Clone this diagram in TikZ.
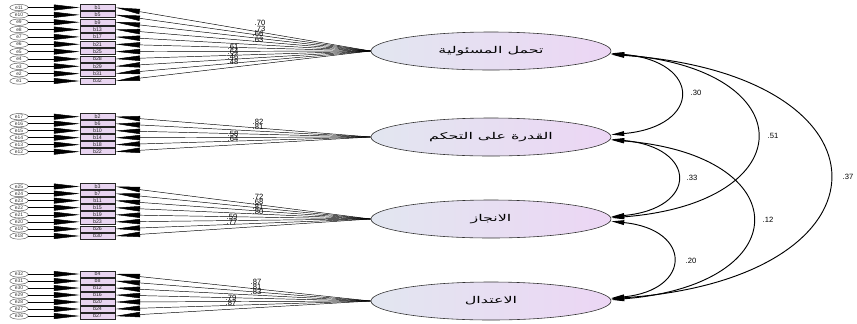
\documentclass[tikz,border=0pt]{standalone}
\usepackage{fontspec}
\setmainfont{Liberation Sans}
\newfontfamily\arabicfont[Script=Arabic,FakeStretch=1.7]{DejaVu Sans}
\TeXXeTstate=1
\usetikzlibrary{shapes.geometric,arrows.meta}
\definecolor{latleft}{RGB}{226,230,240}
\definecolor{latright}{RGB}{236,214,244}
\definecolor{indfill}{RGB}{232,212,240}
\begin{document}
\begin{tikzpicture}[x=0.03cm,y=-0.03cm,
  lat/.style={ellipse, draw=black!80, line width=0.5pt, minimum width=7.2cm, minimum height=1.14cm, inner sep=0pt, left color=latleft, right color=latright, font=\arabicfont\fontsize{8}{8}\selectfont},
  errnode/.style={ellipse, draw=black!65, fill=white, minimum width=0.55cm, minimum height=0.19cm, inner sep=0pt, text=black!80, font=\fontsize{4.2}{4.2}\selectfont},
  indnode/.style={rectangle, draw=black!85, line width=0.7pt, fill=indfill, minimum width=1.05cm, minimum height=0.18cm, inner sep=0pt, text=black!85, font=\fontsize{4.5}{4.5}\selectfont},
  earrow/.style={line width=0.4pt, -{Triangle[length=22pt,width=5pt]}},
  larrow/.style={line width=0.4pt, -{Triangle[length=21pt,width=4.5pt]}},
  cov/.style={line width=0.8pt, {Triangle[length=11pt,width=4pt]}-{Triangle[length=11pt,width=4pt]}},
  lbl/.style={font=\fontsize{6.5}{6.5}\selectfont, inner sep=0pt}
]
\useasboundingbox (0,0) rectangle (857,323);

\node[lat] (F1) at (491,51) {\beginR تحمل المسئولية\endR};
\node[lat] (F2) at (491,137) {\beginR القدرة على التحكم\endR};
\node[lat] (F3) at (491,219) {\beginR الانجاز\endR};
\node[lat] (F4) at (491,301) {\beginR الاعتدال\endR};

\foreach \e/\b [count=\i from 0] in {11/1,10/5,9/9,8/13,7/17,6/21,5/25,4/28,3/29,2/31,1/32} {
  \node[indnode] (b\b) at (97.5,7.5+7.35*\i) {b\b};
  \node[errnode] (e\e) at (19,7.5+7.35*\i) {e\e};
  \draw[earrow] (e\e) -- (b\b);
  \draw[larrow] (F1.west) -- (b\b.east);
}
\foreach \e/\b [count=\i from 0] in {17/2,16/6,15/10,14/14,13/18,12/22} {
  \node[indnode] (b\b) at (97.5,116.7+7*\i) {b\b};
  \node[errnode] (e\e) at (19,116.7+7*\i) {e\e};
  \draw[earrow] (e\e) -- (b\b);
  \draw[larrow] (F2.west) -- (b\b.east);
}
\foreach \e/\b [count=\i from 0] in {25/3,24/7,23/11,22/15,21/19,20/23,19/26,18/30} {
  \node[indnode] (b\b) at (97.5,186.5+7.07*\i) {b\b};
  \node[errnode] (e\e) at (19,186.5+7.07*\i) {e\e};
  \draw[earrow] (e\e) -- (b\b);
  \draw[larrow] (F3.west) -- (b\b.east);
}
\foreach \e/\b [count=\i from 0] in {32/4,31/8,30/12,29/16,28/20,27/24,26/27} {
  \node[indnode] (b\b) at (97.5,274+7*\i) {b\b};
  \node[errnode] (e\e) at (19,274+7*\i) {e\e};
  \draw[earrow] (e\e) -- (b\b);
  \draw[larrow] (F4.west) -- (b\b.east);
}

% loadings
\node[lbl] (g1a) at (260,23) {.70};
\node[lbl] (g1b) at (260,28.5) {.73};
\node[lbl] (g1c) at (258,34) {.66};
\node[lbl] (g1d) at (258,39.5) {.63};
\node[lbl] (g1e) at (233,47) {.61};
\node[lbl] (g1f) at (233,52) {.64};
\node[lbl] (g1g) at (233,57) {.46};
\node[lbl] (g1h) at (233,62) {.48};

\node[lbl] (g2a) at (258,122) {.82};
\node[lbl] (g2b) at (258,127) {.81};
\node[lbl] (g2c) at (233,133.5) {.58};
\node[lbl] (g2d) at (233,138.5) {.64};

\node[lbl] (g3a) at (258,197) {.72};
\node[lbl] (g3b) at (258,202) {.68};
\node[lbl] (g3c) at (258,207) {.81};
\node[lbl] (g3d) at (258,211.5) {.80};
\node[lbl] (g3e) at (232,217) {.59};
\node[lbl] (g3f) at (232,222) {.77};

\node[lbl] (g4a) at (256,282) {.87};
\node[lbl] (g4b) at (256,287) {.81};
\node[lbl] (g4c) at (256,292) {.83};
\node[lbl] (g4d) at (231,298) {.79};
\node[lbl] (g4e) at (231,303) {.87};

% covariances
\draw[cov] ([yshift=-2pt]F1.east) .. controls +(91,8) and +(91,-8) .. ([yshift=2pt]F2.east);
\draw[cov] ([yshift=-2.5pt]F1.east) .. controls +(193,15) and +(193,-15) .. ([yshift=1pt]F3.east);
\draw[cov] ([yshift=-3pt]F1.east) .. controls +(290,20) and +(290,-20) .. ([yshift=2pt]F4.east);
\draw[cov] ([yshift=-2pt]F2.east) .. controls +(87,8) and +(87,-8) .. ([yshift=2pt]F3.east);
\draw[cov] ([yshift=-2.5pt]F2.east) .. controls +(187,15) and +(187,-15) .. ([yshift=1pt]F4.east);
\draw[cov] ([yshift=-2pt]F3.east) .. controls +(81,8) and +(81,-8) .. ([yshift=2.5pt]F4.east);

\node[lbl] (c12) at (696,93) {.30};
\node[lbl] (c13) at (773,136) {.51};
\node[lbl] (c14) at (848,177) {.37};
\node[lbl] (c23) at (692,178) {.33};
\node[lbl] (c24) at (768,220) {.12};
\node[lbl] (c34) at (691,261) {.20};
\end{tikzpicture}
\end{document}
